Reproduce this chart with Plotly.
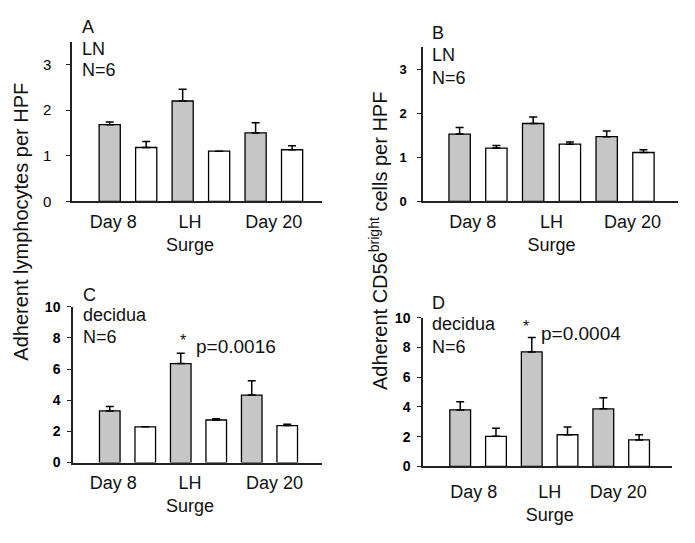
import plotly.graph_objects as go

# Page offset: the browser body margin places the figure 8px from the top-left
OFF = 8
W, H = 695 - OFF, 543 - OFF

categories = ["Day 8", "LH Surge", "Day 20"]
tick_text = ["Day 8", "LH<br>Surge", "Day 20"]

# Panel A: LN, adherent lymphocytes
a_gray = [1.68, 2.20, 1.50]
a_gray_sem = [0.06, 0.26, 0.22]
a_white = [1.18, 1.10, 1.13]
a_white_sem = [0.13, 0.0, 0.09]

# Panel B: LN, CD56bright
b_gray = [1.53, 1.77, 1.47]
b_gray_sem = [0.15, 0.15, 0.13]
b_white = [1.21, 1.30, 1.11]
b_white_sem = [0.06, 0.05, 0.06]

# Panel C: decidua, adherent lymphocytes
c_gray = [3.31, 6.35, 4.33]
c_gray_sem = [0.29, 0.67, 0.92]
c_white = [2.29, 2.73, 2.37]
c_white_sem = [0.0, 0.08, 0.09]

# Panel D: decidua, CD56bright
d_gray = [3.80, 7.70, 3.87]
d_gray_sem = [0.55, 0.97, 0.74]
d_white = [2.02, 2.13, 1.78]
d_white_sem = [0.55, 0.52, 0.35]

FONT = "Liberation Sans, Arial, sans-serif"
GRAY = "#c6c6c6"

def px(x):
    return (x - OFF) / W

def py(y):
    return 1 - (y - OFF) / H

fig = go.Figure()

panels = [
    # (suffix, gray, gray_sem, white, white_sem, xdom_px, ydom_px(zero, top), yrange, xrange, tick offsets)
    ("", a_gray, a_gray_sem, a_white, a_white_sem, (72, 322), (199, 34.5), [0, 3.5], [-0.767, 2.66], [-0.2, -0.15, 0.0]),
    ("2", b_gray, b_gray_sem, b_white, b_white_sem, (423, 678), (199, 40.4), [0, 3.5], [-0.748, 2.72], [-0.07, 0.0, 0.1]),
    ("3", c_gray, c_gray_sem, c_white, c_white_sem, (73, 322), (468.3, 307.7), [0, 10], [-0.768, 2.74], [-0.2, -0.12, 0.07]),
    ("4", d_gray, d_gray_sem, d_white, d_white_sem, (423, 672), (472.3, 319), [0, 10], [-0.77, 2.71], [-0.06, 0.0, -0.04]),
]

xpos = [0, 1, 2]
for i, (s, g, gs, wv, ws, xd, yd, yr, xr, tv) in enumerate(panels):
    xa = "x" + s
    ya = "y" + s
    for vals, sems, col in ((g, gs, GRAY), (wv, ws, "white")):
        fig.add_trace(go.Bar(
            x=xpos, y=vals, xaxis=xa, yaxis=ya,
            marker=dict(color=col, line=dict(color="black", width=1.3)),
            error_y=dict(type="data", symmetric=False, array=sems,
                         arrayminus=[0] * len(sems), color="black",
                         thickness=1.5, width=4),
            showlegend=False,
        ))
    lk = "xaxis" + s
    lky = "yaxis" + s
    tickfont = dict(family=FONT, size=15, color="black") if i == 0 else \
        dict(family=FONT, size=13 if i == 1 else 14, color="black", weight="bold")
    fig.layout[lk] = dict(
        domain=[px(xd[0]), px(xd[1])], range=xr, anchor=ya,
        showline=True, linecolor="#222", linewidth=1.5,
        ticks="", showgrid=False, zeroline=False,
        tickmode="array", tickvals=[k + o for k, o in zip(xpos, tv)], ticktext=tick_text,
        tickangle=0,
        tickfont=dict(family=FONT, size=18, color="#111"),
        ticklabelstandoff=3 if i < 3 else 8,
    )
    fig.layout[lky] = dict(
        domain=[py(yd[0]), py(yd[1])], range=yr, anchor=xa,
        showline=True, linecolor="#222", linewidth=1.5,
        ticks="outside", ticklen=4, tickcolor="#222", tickwidth=1.2,
        showgrid=False, zeroline=False,
        dtick=1 if yr[1] < 5 else 2,
        tickfont=tickfont,
        ticklabelstandoff=(12 if i == 0 else 8 if i == 1 else 4),
    )

fig.update_layout(
    width=W, height=H,
    margin=dict(l=0, r=0, t=0, b=0),
    paper_bgcolor="white", plot_bgcolor="white",
    barmode="group", bargap=0.0, bargroupgap=0.42,
    font=dict(family=FONT, color="black"),
)

def txt(x, y, t, size=18, anchor="left", **kw):
    fig.add_annotation(x=px(x), y=py(y), xref="paper", yref="paper",
                       text=t, showarrow=False, xanchor=anchor, yanchor="middle",
                       font=dict(family=FONT, size=size, color="#111"), **kw)

# Panel labels
for x0, lines in ((80, [("A", 19), ("LN", 42), ("N=6", 64)]),
                  (430, [("B", 25.5), ("LN", 48.5), ("N=6", 71.5)]),
                  (81, [("C", 295.5), ("decidua", 316.5), ("N=6", 339)]),
                  (430, [("D", 304), ("decidua", 325.5), ("N=6", 349)])):
    for t, y in lines:
        txt(x0, y, t)

# Significance marks
txt(183, 342, "*", size=16, anchor="center")
txt(194, 349, "p=0.0016", size=19)
txt(526, 328, "*", size=16, anchor="center")
txt(539, 335, "p=0.0004", size=19)

# Y axis titles
txt(21, 220, "Adherent lymphocytes per HPF", size=20, anchor="center", textangle=-90, borderpad=0)
txt(378, 240, "Adherent CD56<sup>bright</sup> cells per HPF", size=20, anchor="center", textangle=-90, borderpad=0)

fig.write_html("out.html")
